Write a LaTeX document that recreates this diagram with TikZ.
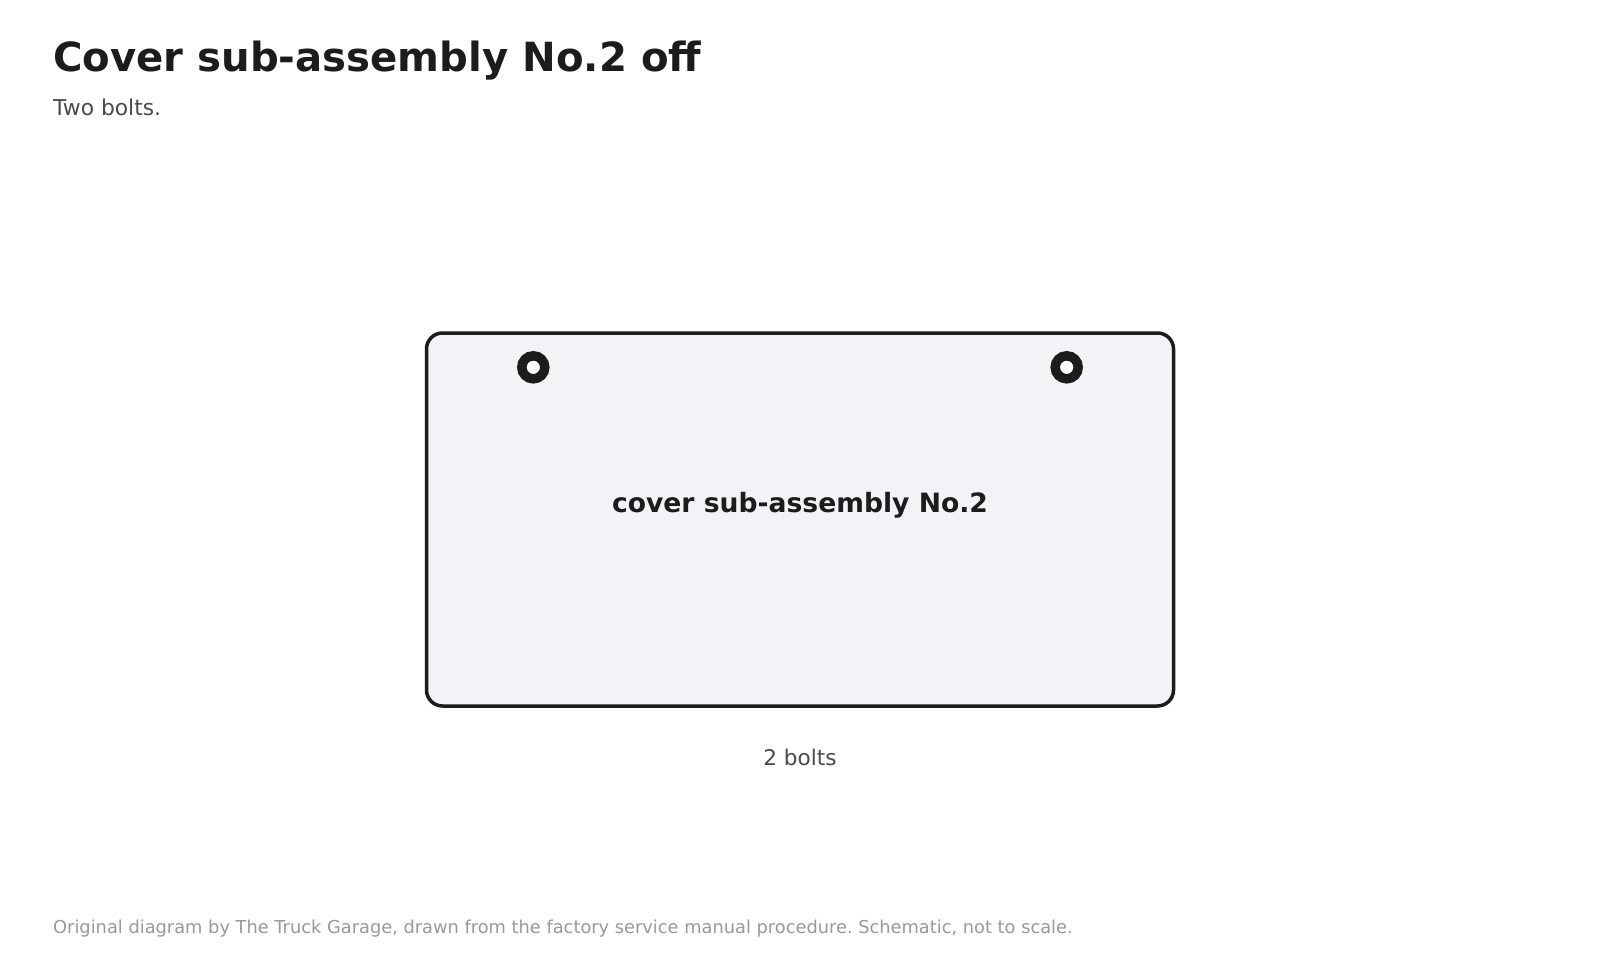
\documentclass[tikz,border=0pt]{standalone}
\usepackage{fontspec}
\setmainfont{DejaVu Sans}
\frenchspacing
\definecolor{ink}{HTML}{1C1C1C}
\definecolor{panel}{HTML}{F2F3F7}
\definecolor{subgray}{HTML}{4A4A4A}
\definecolor{footgray}{HTML}{999999}
\tikzset{
  title/.style={anchor=base west, inner sep=0pt, text=ink, font=\fontsize{40.2}{48}\selectfont\bfseries},
  subtitle/.style={anchor=base west, inner sep=0pt, text=subgray, font=\fontsize{21.8}{26}\selectfont},
  footer/.style={anchor=base west, inner sep=0pt, text=footgray, font=\fontsize{17.8}{21}\selectfont},
  partbox/.style={draw=ink, line width=3.5pt, fill=panel, rounded corners=16pt},
  partlabel/.style={anchor=base, inner sep=0pt, text=ink, font=\fontsize{26.6}{32}\selectfont\bfseries},
  countlabel/.style={anchor=base, inner sep=0pt, text=subgray, font=\fontsize{21.6}{26}\selectfont},
  bolt/.style={circle, draw=ink, line width=9.5pt, fill=white, minimum size=23pt, inner sep=0pt}
}
\begin{document}
\begin{tikzpicture}[x=1pt,y=-1pt]
\useasboundingbox[fill=white] (0,0) rectangle (1600,960);
\node[title] (t) at (53,72) {Cover sub-assembly No.2 off};
\node[subtitle] (s) at (53,115.5) {Two bolts.};
\draw[partbox] (426.5,333) rectangle (1173.5,706);
\node[bolt] (b1) at (533.3,367.3) {};
\node[bolt] (b2) at (1066.7,367.3) {};
\node[partlabel] (p) at (800,512) {cover sub-assembly No.2};
\node[countlabel] (c) at (800,765) {2 bolts};
\node[footer] (f) at (53,933) {Original diagram by The Truck Garage, drawn from the factory service manual procedure. Schematic, not to scale.};
\end{tikzpicture}
\end{document}
